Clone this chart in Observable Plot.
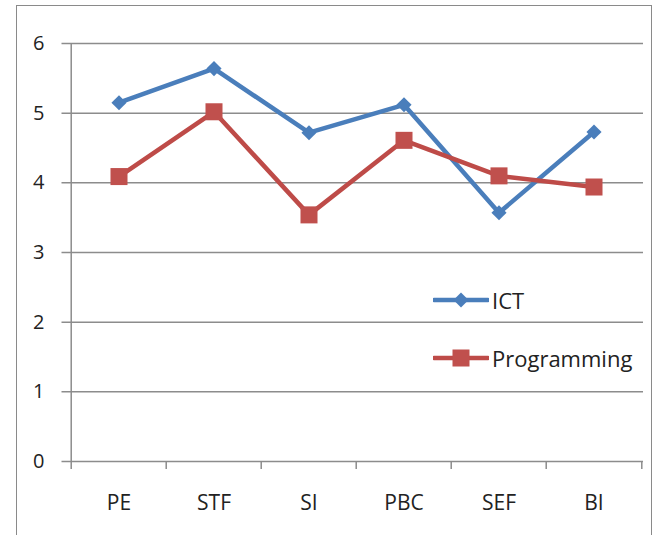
<!DOCTYPE html>
<html><head><meta charset="utf-8">
<script src="https://cdn.jsdelivr.net/npm/d3@7"></script>
<script src="https://cdn.jsdelivr.net/npm/@observablehq/plot@0.6"></script>
<style>
body{margin:0;background:#fff;}
#wrap{position:relative;width:654px;height:535px;overflow:hidden;font-family:"Open Sans",sans-serif;}
#border{position:absolute;left:16px;top:5px;width:636px;height:600px;border:1.5px solid #8a8a8a;box-sizing:border-box;pointer-events:none;}
#chart{position:absolute;left:0;top:0;}
.leg{position:absolute;display:flex;align-items:center;font-size:22px;color:#222;}
.leg svg{margin-right:3px;}
</style></head>
<body>
<div id="wrap"><div id="chart"></div><div id="border"></div><div id="legend"></div></div>
<script>
const categories = ["PE","STF","SI","PBC","SEF","BI"];
const ict = [5.15,5.64,4.72,5.12,3.57,4.73];
const programming = [4.09,5.02,3.54,4.61,4.10,3.94];
const yTicks = [0,1,2,3,4,5,6];
const seriesNames = ["ICT","Programming"];
const colors = ["#4A7EBB","#BE4B48"];

const ictData = categories.map((c,i)=>({cat:c, v:ict[i]}));
const progData = categories.map((c,i)=>({cat:c, v:programming[i]}));

const W=654,H=535, mL=69.5, mR=11, mT=43, mB=74;
const bw=(W-mL-mR)/categories.length;
const grid="#8c8c8c";
const font='"Open Sans",sans-serif';

const plot = Plot.plot({
  width:W, height:H, marginLeft:mL, marginRight:mR, marginTop:mT, marginBottom:mB,
  style:{fontFamily:font, fontSize:"20px", color:"#222", background:"transparent"},
  x:{type:"band", domain:categories, padding:0, label:null},
  y:{domain:[0,6], label:null},
  marks:[
    Plot.ruleY(yTicks,{stroke:grid, strokeWidth:1.5, insetLeft:-8}),
    Plot.ruleX([categories[0]],{y1:0,y2:6,dx:-bw/2,stroke:grid,strokeWidth:1.5}),
    Plot.ruleX(categories,{y1:0,y2:0,insetBottom:-8,dx:-bw/2,stroke:grid,strokeWidth:1.5}),
    Plot.ruleX([categories[categories.length-1]],{y1:0,y2:0,insetBottom:-8,dx:bw/2,stroke:grid,strokeWidth:1.5}),
    Plot.axisY({ticks:yTicks, tickSize:0, tickPadding:25.5, tickFormat:d=>d, fontSize:20}),
    Plot.axisX({tickSize:0, tickPadding:34, fontSize:21}),
    Plot.line(ictData,{x:"cat",y:"v",stroke:colors[0],strokeWidth:4.5}),
    Plot.line(progData,{x:"cat",y:"v",stroke:colors[1],strokeWidth:4.5}),
    Plot.dot(ictData,{x:"cat",y:"v",symbol:"diamond2",r:6.8,fill:colors[0],stroke:"none"}),
    Plot.dot(progData,{x:"cat",y:"v",symbol:"square",r:9.6,fill:"#C0504D",stroke:"none"})
  ]
});
document.getElementById("chart").appendChild(plot);

// legend
const legend=document.getElementById("legend");
const legPos=[{y:300},{y:358}];
seriesNames.forEach((name,i)=>{
  const d=document.createElement("div");
  d.className="leg";
  d.style.left="433px";
  d.style.top=(legPos[i].y-15)+"px";
  d.style.height="30px";
  const marker = i===0
    ? `<polygon points="28,7.5 35.5,15 28,22.5 20.5,15" fill="${colors[0]}"/>`
    : `<rect x="19.5" y="6.5" width="17" height="17" fill="#C0504D"/>`;
  d.innerHTML=`<svg width="56" height="30"><line x1="1" x2="55" y1="15" y2="15" stroke="${colors[i]}" stroke-width="4.5" stroke-linecap="round"/>${marker}</svg><span>${name}</span>`;
  legend.appendChild(d);
});
</script>
</body></html>
